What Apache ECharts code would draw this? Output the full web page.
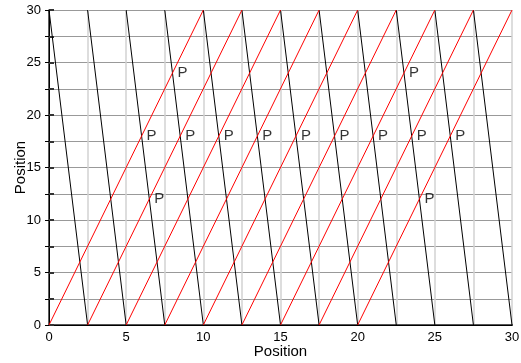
<!DOCTYPE html>
<html>
<head>
<meta charset="utf-8">
<script src="https://cdn.jsdelivr.net/npm/echarts@6/dist/echarts.min.js"></script>
<style>
  html, body { margin: 0; padding: 0; background: #fff; }
  #chart { width: 521px; height: 363px; }
</style>
</head>
<body>
<div id="chart"></div>
<script>
// black lines: x at top (y=30) -> x at bottom (y=0)
var blackTop = [0, 2.5, 5, 7.5, 10, 12.5, 15, 17.5, 20, 22.5, 25, 27.5];
var blackBottom = [2.5, 5, 7.5, 10, 12.5, 15, 17.5, 20, 22.5, 25, 27.5, 30];
// red lines: x at bottom (y=0) -> x at top (y=30)
var redBottom = [0, 2.5, 5, 7.5, 10, 12.5, 15, 17.5, 20];
var redTop = [10, 12.5, 15, 17.5, 20, 22.5, 25, 27.5, 30];
// "P" markers
var pX = [8, 23, 6, 8.5, 11, 13.5, 16, 18.5, 21, 23.5, 26, 6.5, 24];
var pY = [24, 24, 18, 18, 18, 18, 18, 18, 18, 18, 18, 12, 12];
var yMin = 0, yMax = 30;

var chart;
window.onload = function () {
    chart = echarts.init(document.getElementById('chart'));

    var series = [];
    for (var i = 0; i < blackTop.length; i++) {
        series.push({
            type: 'line',
            data: [[blackTop[i], yMax], [blackBottom[i], yMin]],
            symbol: 'none',
            lineStyle: { color: '#000', width: 1 },
            z: 3
        });
    }
    for (var j = 0; j < redBottom.length; j++) {
        series.push({
            type: 'line',
            data: [[redBottom[j], yMin], [redTop[j], yMax]],
            symbol: 'none',
            lineStyle: { color: '#ff0000', width: 1 },
            z: 4
        });
    }
    var pts = [];
    for (var k = 0; k < pX.length; k++) pts.push([pX[k], pY[k]]);
    series.push({
        type: 'scatter',
        data: pts,
        symbolSize: 0,
        label: {
            show: true,
            formatter: 'P',
            position: 'right',
            distance: 5,
            color: '#000',
            fontSize: 15,
            fontFamily: 'Liberation Sans'
        },
        z: 5
    });

    var fmt = function (v) { return v % 5 === 0 ? String(v) : ''; };
    var box = { left: 49, right: 9, top: 10, bottom: 38, outerBoundsMode: 'none' };
    var hiddenX = function (g) {
        return { gridIndex: g, type: 'value', min: 0, max: 30, show: false };
    };
    // inside ticks live on their own overlay grids
    var tickAxis = function (g, pos, len, color, w) {
        return {
            gridIndex: g, type: 'value', position: pos, min: yMin, max: yMax, interval: 2.5,
            axisLine: { show: pos === 'right', lineStyle: { color: '#000', width: 1 } },
            axisTick: { show: true, inside: true, length: len, lineStyle: { color: color, width: w } },
            axisLabel: { show: false },
            splitLine: { show: false }
        };
    };

    var option = {
        animation: false,
        grid: [box, box, box],
        xAxis: [
            {
                gridIndex: 0, type: 'value', min: 0, max: 30, interval: 2.5,
                name: 'Position', nameLocation: 'middle', nameGap: 19, nameMoveOverlap: false,
                nameTextStyle: { color: '#000', fontSize: 15, fontFamily: 'Liberation Sans', verticalAlign: 'top' },
                axisLine: { lineStyle: { color: '#555', width: 2 } },
                axisTick: { show: false },
                axisLabel: { color: '#000', fontSize: 13, fontFamily: 'Liberation Sans', margin: 6, formatter: fmt },
                splitLine: { show: true, lineStyle: { color: '#d2d2d2', width: 1.5 } }
            },
            {
                gridIndex: 1, type: 'value', position: 'top', min: 0, max: 30,
                axisLine: { show: true, lineStyle: { color: '#000', width: 1 } },
                axisTick: { show: false }, axisLabel: { show: false }, splitLine: { show: false }
            },
            hiddenX(2)
        ],
        yAxis: [
            {
                gridIndex: 0, type: 'value', min: yMin, max: yMax, interval: 2.5,
                name: 'Position', nameLocation: 'middle', nameGap: 21, nameMoveOverlap: false,
                nameTextStyle: { color: '#000', fontSize: 15, fontFamily: 'Liberation Sans' },
                axisLine: { show: true, lineStyle: { color: '#333', width: 1.5 } },
                axisTick: { show: false },
                axisLabel: { color: '#000', fontSize: 13, fontFamily: 'Liberation Sans', margin: 8, formatter: fmt },
                splitLine: { show: true, lineStyle: { color: '#999', width: 1 } }
            },
            tickAxis(1, 'right', 4, '#000', 1),
            tickAxis(2, 'left', 5, '#333', 2)
        ],
        series: series
    };
    chart.setOption(option);
};
</script>
</body>
</html>
